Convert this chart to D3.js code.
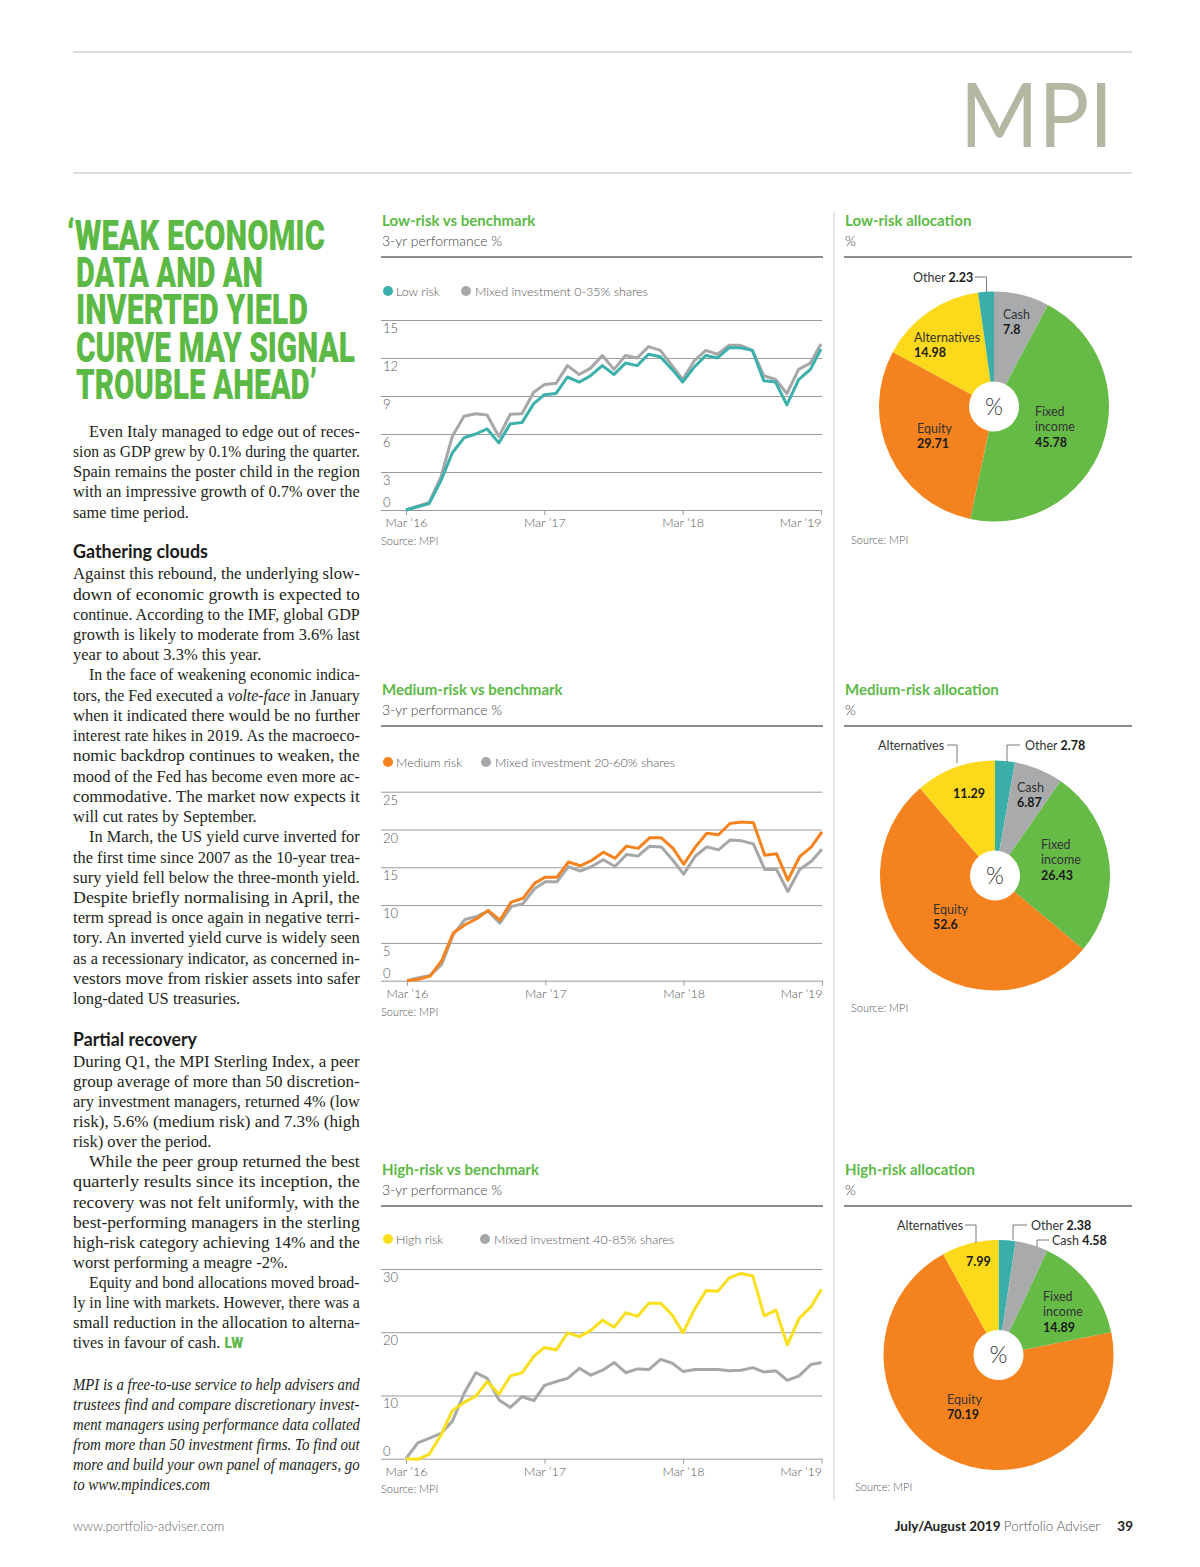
<!DOCTYPE html>
<html>
<head>
<meta charset="utf-8">
<script src="https://cdn.jsdelivr.net/npm/d3@7"></script>
<style>
  body { margin: 0; background: #fff; }
  text { font-family: Lato, "Open Sans", sans-serif; }
</style>
</head>
<body>
<div id="page"></div>
<script>
// ---- data ----
var months = d3.utcMonth.range(new Date(Date.UTC(2016, 2, 1)), new Date(Date.UTC(2019, 3, 1)));
var xTickDates = [new Date(Date.UTC(2016, 2, 1)), new Date(Date.UTC(2017, 2, 1)), new Date(Date.UTC(2018, 2, 1)), new Date(Date.UTC(2019, 2, 1))];
var xTickLabels = ["Mar ’16", "Mar ’17", "Mar ’18", "Mar ’19"];

var lowRisk = [0, 0.26, 0.5, 2.3, 4.5, 5.7, 6.0, 6.4, 5.3, 6.8, 6.9, 8.4, 9.1, 9.2, 10.5, 10.1, 10.6, 11.4, 10.7, 11.6, 11.4, 12.3, 12.1, 11.1, 10.1, 11.3, 12.2, 12.0, 12.8, 12.8, 12.6, 10.2, 10.1, 8.3, 10.3, 11.1, 12.7];
var lowBench = [0, 0.3, 0.6, 2.6, 5.8, 7.4, 7.6, 7.5, 5.8, 7.55, 7.6, 9.3, 9.9, 10.0, 11.4, 10.7, 11.2, 12.2, 11.1, 12.2, 12.0, 12.9, 12.6, 11.4, 10.3, 11.8, 12.6, 12.3, 13.0, 13.0, 12.6, 10.6, 10.3, 9.2, 11.1, 11.6, 13.1];
var medRisk = [0, 0.2, 0.6, 2.7, 6.3, 7.4, 8.2, 9.3, 8.0, 10.4, 10.9, 12.9, 13.7, 13.7, 15.7, 15.2, 15.9, 17.0, 16.2, 17.8, 17.5, 18.9, 18.9, 17.5, 15.4, 17.7, 19.5, 19.3, 20.8, 21.0, 20.9, 16.6, 16.8, 13.3, 16.4, 17.7, 19.7];
var medBench = [0, 0.4, 0.7, 2.2, 6.1, 8.1, 8.5, 9.2, 7.6, 9.8, 10.2, 12.2, 13.1, 13.1, 15.1, 14.5, 15.1, 16.0, 15.1, 16.7, 16.5, 17.8, 17.7, 15.9, 14.1, 16.5, 17.7, 17.3, 18.6, 18.5, 18.1, 14.7, 14.7, 11.8, 14.7, 15.8, 17.4];
var highRisk = [0, -0.1, 0.7, 3.7, 7.6, 8.9, 9.9, 12.2, 10.2, 13.1, 13.6, 16.2, 17.6, 17.2, 19.9, 19.3, 20.3, 21.9, 20.8, 23.1, 22.5, 24.6, 24.6, 22.7, 19.9, 23.7, 26.6, 26.5, 28.6, 29.3, 28.9, 22.6, 23.5, 18.0, 22.2, 24.0, 26.8];
var highBench = [0, 2.5, 3.2, 4.0, 5.9, 10.3, 13.6, 12.7, 9.3, 8.1, 9.8, 9.2, 11.6, 12.2, 12.7, 14.3, 13.2, 14.0, 15.2, 13.6, 14.2, 14.1, 15.7, 15.1, 13.8, 14.1, 14.1, 14.1, 13.9, 14.0, 14.4, 13.7, 13.9, 12.4, 13.1, 14.9, 15.2];

var yTicksLow = [0, 3, 6, 9, 12, 15];
var yTicksMed = [0, 5, 10, 15, 20, 25];
var yTicksHigh = [0, 10, 20, 30];

var lowAllocCats = ["Cash", "Fixed income", "Equity", "Alternatives", "Other"];
var lowAllocValues = [7.8, 45.78, 29.71, 14.98, 2.23];
var medAllocCats = ["Other", "Cash", "Fixed income", "Equity", "Alternatives"];
var medAllocValues = [2.78, 6.87, 26.43, 52.6, 11.29];
var highAllocCats = ["Other", "Cash", "Fixed income", "Equity", "Alternatives"];
var highAllocValues = [2.38, 4.58, 14.89, 70.19, 7.99];

// ---- styles ----
var green = "#5cb946";
var benchGrey = "#a6a7a9";
var sliceColour = {
  "Cash": "#a9aaac",
  "Fixed income": "#66bb47",
  "Equity": "#f4831f",
  "Alternatives": "#fdd91b",
  "Other": "#3aafaa"
};

var svg = d3.select("#page").append("svg")
  .attr("width", 1200)
  .attr("height", 1567);

// squeeze/stretch a text (drawn at 0,0) horizontally to a given width
function fit(t, x, y, width) {
  var nat = t.node().getComputedTextLength();
  var s = width / nat;
  t.attr("transform", `translate(${x},${y}) scale(${s},1)`);
  return s;
}

// page furniture
svg.append("line").attr("x1", 73).attr("x2", 1132).attr("y1", 52).attr("y2", 52).attr("stroke", "#bbb");
svg.append("line").attr("x1", 73).attr("x2", 1132).attr("y1", 173).attr("y2", 173).attr("stroke", "#bbb");
var logo = svg.append("text")
  .style("font-family", "Lato").style("font-weight", 400)
  .style("font-size", "89px").attr("fill", "#b3b8a3")
  .text("MPI");
fit(logo, 960, 147, 153);
svg.append("line").attr("x1", 834).attr("x2", 834).attr("y1", 212).attr("y2", 1500).attr("stroke", "#d0d0d0");

// headline
var headline = [
  { t: "‘WEAK ECONOMIC", x: 67, w: 258 },
  { t: "DATA AND AN", x: 76, w: 187 },
  { t: "INVERTED YIELD", x: 76, w: 232 },
  { t: "CURVE MAY SIGNAL", x: 76, w: 279 },
  { t: "TROUBLE AHEAD’", x: 76, w: 241 }
];
headline.forEach(function(d, i) {
  var t = svg.append("text")
    .style("font-family", "Roboto").style("font-weight", 900)
    .style("font-size", "42px").attr("fill", green)
    .text(d.t);
  fit(t, d.x, 250 + i * 37.2, d.w);
});

// body copy
var bodySections = [
  { start: 436.7, step: 20.25, paras: [
    { indent: true, lines: ["Even Italy managed to edge out of reces-", "sion as GDP grew by 0.1% during the quarter.", "Spain remains the poster child in the region", "with an impressive growth of 0.7% over the", "same time period."] }
  ] },
  { heading: "Gathering clouds", hy: 558, hw: 135, start: 579.3, step: 20.23, paras: [
    { indent: false, lines: ["Against this rebound, the underlying slow-", "down of economic growth is expected to", "continue. According to the IMF, global GDP", "growth is likely to moderate from 3.6% last", "year to about 3.3% this year."] },
    { indent: true, lines: ["In the face of weakening economic indica-", "tors, the Fed executed a *volte-face* in January", "when it indicated there would be no further", "interest rate hikes in 2019. As the macroeco-", "nomic backdrop continues to weaken, the", "mood of the Fed has become even more ac-", "commodative. The market now expects it", "will cut rates by September."] },
    { indent: true, lines: ["In March, the US yield curve inverted for", "the first time since 2007 as the 10-year trea-", "sury yield fell below the three-month yield.", "Despite briefly normalising in April, the", "term spread is once again in negative terri-", "tory. An inverted yield curve is widely seen", "as a recessionary indicator, as concerned in-", "vestors move from riskier assets into safer", "long-dated US treasuries."] }
  ] },
  { heading: "Partial recovery", hy: 1046, hw: 124, start: 1066.7, step: 20.12, paras: [
    { indent: false, lines: ["During Q1, the MPI Sterling Index, a peer", "group average of more than 50 discretion-", "ary investment managers, returned 4% (low", "risk), 5.6% (medium risk) and 7.3% (high", "risk) over the period."] },
    { indent: true, lines: ["While the peer group returned the best", "quarterly results since its inception, the", "recovery was not felt uniformly, with the", "best-performing managers in the sterling", "high-risk category achieving 14% and the", "worst performing a meagre -2%."] },
    { indent: true, lines: ["Equity and bond allocations moved broad-", "ly in line with markets. However, there was a", "small reduction in the allocation to alterna-", "tives in favour of cash.  #LW"] }
  ] },
  { start: 1390, step: 20.0, italic: true, paras: [
    { indent: false, lines: ["MPI is a free-to-use service to help advisers and", "trustees find and compare discretionary invest-", "ment managers using performance data collated", "from more than 50 investment firms. To find out", "more and build your own panel of managers, go", "to www.mpindices.com"] }
  ] }
];

var bodyLeft = 73, bodyRight = 360, indentW = 16;
bodySections.forEach(function(sec) {
  if (sec.heading) {
    var h = svg.append("text")
      .style("font-family", "Lato").style("font-weight", 700).style("font-size", "18.5px")
      .attr("fill", "#1a1a1a").text(sec.heading);
    fit(h, bodyLeft, sec.hy, sec.hw);
  }
  var row = 0;
  sec.paras.forEach(function(p) {
    var ratios = [];
    var last = null;
    p.lines.forEach(function(line, li) {
      var x = bodyLeft + (p.indent && li === 0 ? indentW : 0);
      var y = sec.start + row * sec.step;
      var t = svg.append("text")
        .style("font-family", "'Liberation Serif', serif")
        .style("font-size", "16.5px")
        .style("font-style", sec.italic ? "italic" : "normal")
        .attr("fill", "#231f20");
      line.split(/(\*[^*]+\*|#LW)/).forEach(function(part) {
        if (!part) return;
        if (part === "#LW") {
          t.append("tspan").style("font-family", "Roboto").style("font-weight", 900)
            .style("font-style", "normal")
            .style("font-size", "14px").attr("fill", green).text("LW");
        } else if (part[0] === "*") {
          t.append("tspan").style("font-style", "italic").text(part.slice(1, -1));
        } else {
          t.append("tspan").text(part);
        }
      });
      if (li < p.lines.length - 1) {
        ratios.push(fit(t, x, y, bodyRight - x));
      } else {
        last = { t: t, x: x, y: y };
      }
      row++;
    });
    var r = ratios.length ? Math.min(d3.mean(ratios), 1) : 0.92;
    fit(last.t, last.x, last.y, last.t.node().getComputedTextLength() * r);
  });
});

// ---- line charts ----
var lineCharts = [
  { title: "Low-risk vs benchmark", top: 221, risk: lowRisk, bench: lowBench, colour: "#3cb0ab",
    riskName: "Low risk", benchName: "Mixed investment 0-35% shares", benchDotX: 466, legendY: 291,
    ticks: yTicksLow, yMax: 15, yBase: 510, yTop: 320, x0: 406, x1: 821, sourceY: 545 },
  { title: "Medium-risk vs benchmark", top: 690, risk: medRisk, bench: medBench, colour: "#f4831f",
    riskName: "Medium risk", benchName: "Mixed investment 20-60% shares", benchDotX: 486, legendY: 762,
    ticks: yTicksMed, yMax: 25, yBase: 980.7, yTop: 791.7, x0: 407, x1: 822, sourceY: 1016 },
  { title: "High-risk vs benchmark", top: 1170, risk: highRisk, bench: highBench, colour: "#f9df1c",
    riskName: "High risk", benchName: "Mixed investment 40-85% shares", benchDotX: 485, legendY: 1239,
    ticks: yTicksHigh, yMax: 30, yBase: 1458.7, yTop: 1269, x0: 406, x1: 821.5, sourceY: 1493 }
];

function panelHeader(x, x2, top, title, sub) {
  svg.append("text").attr("x", x).attr("y", top + 5)
    .style("font-weight", 700).style("font-size", "15px").attr("fill", green).text(title);
  svg.append("text").attr("x", x).attr("y", top + 25)
    .style("font-weight", 300).style("font-size", "14px").attr("fill", "#444").text(sub);
  svg.append("line").attr("x1", x - 1).attr("x2", x2).attr("y1", top + 36).attr("y2", top + 36)
    .attr("stroke", "#666").attr("stroke-width", 1.5);
}

lineCharts.forEach(function(c) {
  panelHeader(382, 823, c.top, c.title, "3-yr performance %");

  var xScale = d3.scaleUtc().domain([months[0], months[months.length - 1]]).range([c.x0, c.x1]);
  var yScale = d3.scaleLinear().domain([0, c.yMax]).range([c.yBase, c.yTop]);

  // grid lines
  var yAxis = svg.append("g").attr("transform", "translate(381,0)")
    .call(d3.axisRight(yScale).tickValues(c.ticks).tickSize(441).tickFormat(""));
  yAxis.select(".domain").remove();
  yAxis.selectAll(".tick line").attr("stroke", "#9b9b9b");
  yAxis.selectAll(".tick text").remove();

  // y labels (under each grid line, above the baseline)
  svg.selectAll(null).data(c.ticks).enter().append("text")
    .attr("x", 383)
    .attr("y", d => d === 0 ? yScale(d) - 3 : yScale(d) + 13)
    .style("font-weight", 300).style("font-size", "13px")
    .attr("fill", "#555")
    .text(d => d);

  // x axis
  var xAxis = svg.append("g").attr("transform", `translate(0, ${c.yBase})`)
    .call(d3.axisBottom(xScale).tickValues(xTickDates).tickSize(5).tickPadding(3)
      .tickFormat((d, i) => xTickLabels[i]));
  xAxis.select(".domain").remove();
  xAxis.selectAll(".tick line").attr("stroke", "#9b9b9b");
  xAxis.selectAll(".tick text")
    .style("font-family", "Lato").style("font-weight", 300).style("font-size", "12.5px")
    .attr("fill", "#555")
    .style("text-anchor", (d, i) => i === xTickDates.length - 1 ? "end" : "middle");

  var line = d3.line().x((d, i) => xScale(months[i])).y(d => yScale(d));
  svg.append("path").datum(c.bench).attr("d", line)
    .attr("fill", "none").attr("stroke", benchGrey).attr("stroke-width", 3).attr("stroke-linejoin", "round");
  svg.append("path").datum(c.risk).attr("d", line)
    .attr("fill", "none").attr("stroke", c.colour).attr("stroke-width", 3).attr("stroke-linejoin", "round");

  // legend
  svg.append("circle").attr("cx", 388).attr("cy", c.legendY).attr("r", 5).attr("fill", c.colour);
  svg.append("text").attr("x", 396).attr("y", c.legendY + 4.5)
    .style("font-weight", 300).style("font-size", "12.5px").attr("fill", "#555").text(c.riskName);
  svg.append("circle").attr("cx", c.benchDotX).attr("cy", c.legendY).attr("r", 5).attr("fill", benchGrey);
  svg.append("text").attr("x", c.benchDotX + 9).attr("y", c.legendY + 4.5)
    .style("font-weight", 300).style("font-size", "12.5px").attr("fill", "#555").text(c.benchName);

  svg.append("text").attr("x", 381).attr("y", c.sourceY)
    .style("font-weight", 300).style("font-size", "11px").attr("fill", "#555").text("Source: MPI");
});

// ---- pies ----
var pies = [
  { title: "Low-risk allocation", top: 221, cats: lowAllocCats, values: lowAllocValues, cx: 994, cy: 406.5, sourceX: 851, sourceY: 544,
    labels: [
      { cat: "Other", x: 913, y: 281.5, inline: true },
      { cat: "Cash", x: 1003, y: 318.5, name: ["Cash"] },
      { cat: "Alternatives", x: 914, y: 341.5, name: ["Alternatives"] },
      { cat: "Fixed income", x: 1035, y: 415.5, name: ["Fixed", "income"] },
      { cat: "Equity", x: 917, y: 432.5, name: ["Equity"] }
    ],
    leaders: [[[975, 277], [986.5, 277], [986.5, 292]]] },
  { title: "Medium-risk allocation", top: 690, cats: medAllocCats, values: medAllocValues, cx: 995, cy: 875.5, sourceX: 851, sourceY: 1012,
    labels: [
      { cat: "Alternatives", x: 878, y: 749.5, name: ["Alternatives"], noValue: true },
      { cat: "Alternatives", x: 953, y: 797.5, name: [] },
      { cat: "Other", x: 1025, y: 749.5, inline: true },
      { cat: "Cash", x: 1017, y: 791.5, name: ["Cash"] },
      { cat: "Fixed income", x: 1041, y: 848.5, name: ["Fixed", "income"] },
      { cat: "Equity", x: 933, y: 913.5, name: ["Equity"] }
    ],
    leaders: [[[947, 745], [957, 745], [957, 763]], [[1020, 745], [1007, 745], [1007, 762]]] },
  { title: "High-risk allocation", top: 1170, cats: highAllocCats, values: highAllocValues, cx: 998.5, cy: 1355, sourceX: 855, sourceY: 1491,
    labels: [
      { cat: "Alternatives", x: 897, y: 1229.5, name: ["Alternatives"], noValue: true },
      { cat: "Alternatives", x: 966, y: 1266, name: [] },
      { cat: "Other", x: 1031, y: 1229.5, inline: true },
      { cat: "Cash", x: 1052, y: 1244.5, inline: true },
      { cat: "Fixed income", x: 1043, y: 1300.5, name: ["Fixed", "income"] },
      { cat: "Equity", x: 947, y: 1403.5, name: ["Equity"] }
    ],
    leaders: [[[965, 1225], [976, 1225], [976, 1243]], [[1027, 1225], [1013, 1225], [1013, 1240]], [[1049, 1240], [1037, 1240], [1037, 1247]]] }
];

var pie = d3.pie().sort(null).value(d => d.value);
var arc = d3.arc().innerRadius(25).outerRadius(115);

pies.forEach(function(p) {
  panelHeader(845, 1132, p.top, p.title, "%");
  var rows = p.cats.map((c, i) => ({ cat: c, value: p.values[i] }));
  var g = svg.append("g").attr("transform", `translate(${p.cx}, ${p.cy})`);
  g.selectAll("path").data(pie(rows)).enter().append("path")
    .attr("d", arc).attr("fill", d => sliceColour[d.data.cat]);
  g.append("text").attr("text-anchor", "middle").attr("y", 8)
    .style("font-weight", 300).style("font-size", "23px").attr("fill", "#333").text("%");

  p.leaders.forEach(function(pts) {
    svg.append("path").attr("d", d3.line()(pts)).attr("fill", "none").attr("stroke", "#555").attr("stroke-width", 0.8);
  });

  p.labels.forEach(function(l) {
    var val = p.values[p.cats.indexOf(l.cat)];
    if (l.inline) {
      var t = svg.append("text").attr("x", l.x).attr("y", l.y)
        .style("font-size", "12.5px").attr("fill", "#333");
      t.append("tspan").style("font-weight", 400).text(l.cat + " ");
      t.append("tspan").style("font-weight", 700).attr("fill", "#1a1a1a").text(val);
      return;
    }
    l.name.forEach(function(n, i) {
      svg.append("text").attr("x", l.x).attr("y", l.y + i * 15.5)
        .style("font-weight", 400).style("font-size", "12.5px").attr("fill", "#333").text(n);
    });
    if (!l.noValue) {
      svg.append("text").attr("x", l.x).attr("y", l.y + l.name.length * 15.5)
        .style("font-weight", 700).style("font-size", "12.5px").attr("fill", "#1a1a1a").text(val);
    }
  });

  svg.append("text").attr("x", p.sourceX).attr("y", p.sourceY)
    .style("font-weight", 300).style("font-size", "11px").attr("fill", "#555").text("Source: MPI");
});

// footer
svg.append("text").attr("x", 73).attr("y", 1531)
  .style("font-weight", 300).style("font-size", "13px").attr("fill", "#666").text("www.portfolio-adviser.com");
var foot = svg.append("text").attr("x", 1100).attr("y", 1531).attr("text-anchor", "end").style("font-size", "13.5px");
foot.append("tspan").style("font-weight", 700).attr("fill", "#222").text("July/August 2019 ");
foot.append("tspan").style("font-weight", 300).attr("fill", "#555").text("Portfolio Adviser");
svg.append("text").attr("x", 1133).attr("y", 1531).attr("text-anchor", "end")
  .style("font-weight", 700).style("font-size", "13.5px").attr("fill", "#222").text("39");
</script>
</body>
</html>
